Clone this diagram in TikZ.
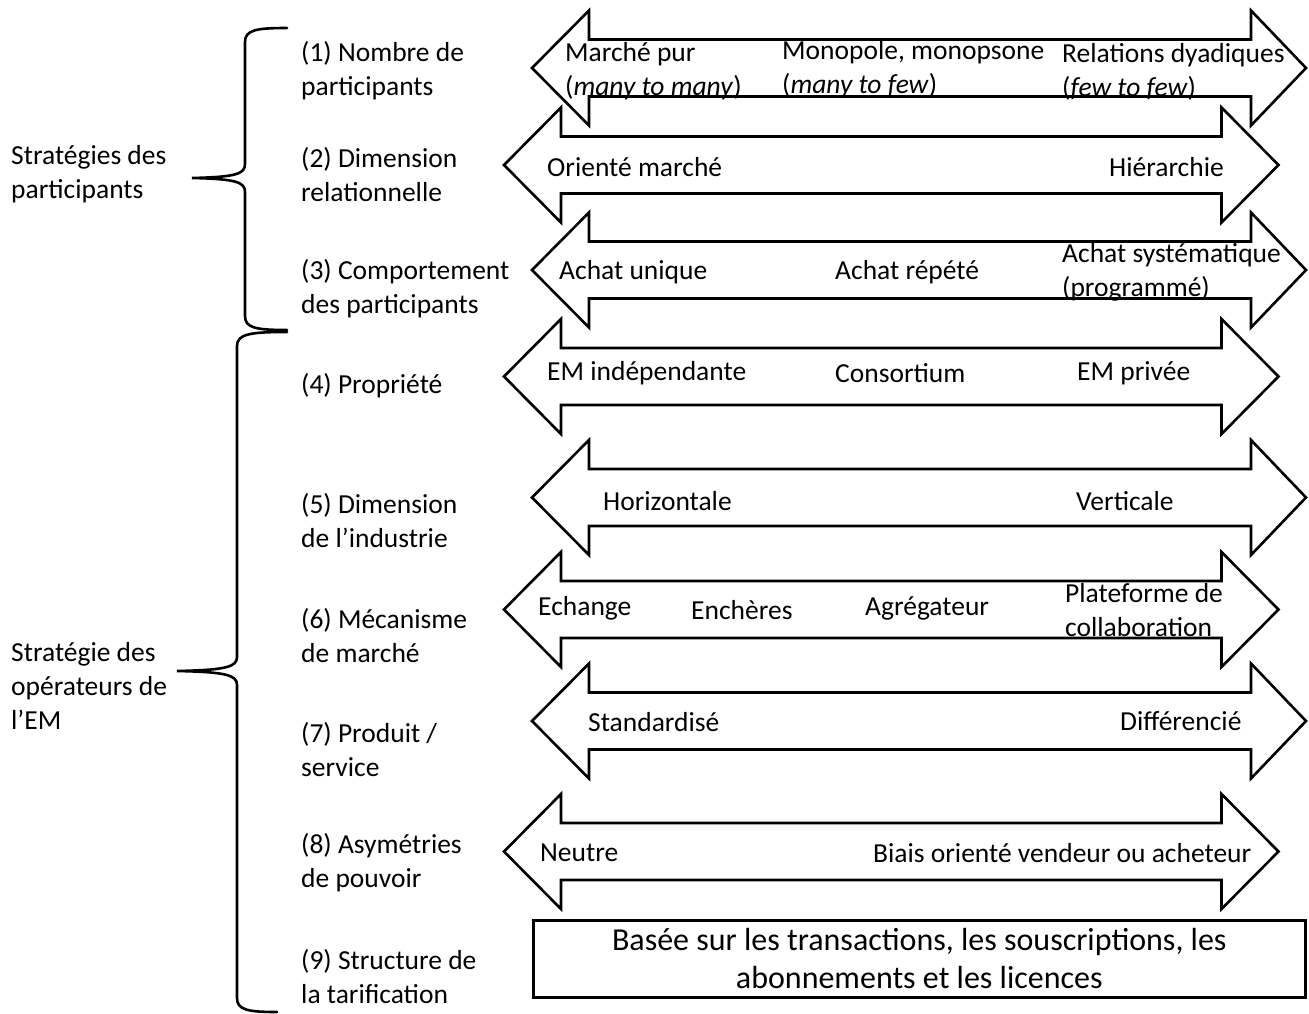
\documentclass[tikz,border=0pt]{standalone}
\usepackage{fontspec}
\setmainfont{Carlito}
\begin{document}
\begin{tikzpicture}[x=1pt,y=-1pt,
  arrowshape/.style={draw=black,line width=2.6pt,fill=white,line join=miter},
  bracestyle/.style={draw=black,line width=2.6pt,line cap=round},
  txt/.style={anchor=west,inner sep=0pt,align=left,font=\fontsize{27.5}{34}\selectfont},
  boxstyle/.style={draw=black,line width=2.6pt,fill=white}]
\useasboundingbox[fill=white] (0,0) rectangle (1309,1014);
\newcommand\dblarrow[5]{%
  \draw[arrowshape] (#2,#1) -- (#3,{#1-57.5}) -- (#3,{#1-28.5}) -- (#4,{#1-28.5}) -- (#4,{#1-57.5}) -- (#5,#1)
    -- (#4,{#1+57.5}) -- (#4,{#1+28.5}) -- (#3,{#1+28.5}) -- (#3,{#1+57.5}) -- cycle;}
% arrows
\dblarrow{68}{532}{589}{1251}{1306}
\dblarrow{165}{504}{561}{1221.5}{1278.5}
\dblarrow{270}{532}{589}{1251}{1306}
\dblarrow{376.5}{504}{561}{1221.5}{1278.5}
\dblarrow{497.5}{532}{589}{1251}{1306}
\dblarrow{609.5}{504}{561}{1221.5}{1278.5}
\dblarrow{721}{532}{589}{1251}{1306}
\dblarrow{851.5}{504}{561}{1221.5}{1278.5}
% box
\node[boxstyle,minimum width=772pt,minimum height=77pt,inner sep=0pt,anchor=north west,
  align=center,font=\fontsize{32}{38}\selectfont] (tarif) at (532,919)
  {Basée sur les transactions, les souscriptions, les\\abonnements et les licences};
% braces
\draw[bracestyle] (287,28) .. controls (256,28) and (245,30) .. (245,42) -- (245,164)
  .. controls (245,174) and (236,177) .. (192,178)
  .. controls (236,179) and (245,182) .. (245,192) -- (245,316)
  .. controls (245,328) and (256,330) .. (287,330);
\draw[bracestyle] (287,332) .. controls (250,332) and (237,334) .. (237,346) -- (237,657)
  .. controls (237,667) and (226,670) .. (177,671)
  .. controls (226,672) and (237,675) .. (237,685) -- (237,998)
  .. controls (237,1010) and (248,1012) .. (277,1012);
% group labels
\node[txt] (g1) at (11,174) {Stratégies des\\participants};
\node[txt] (g2) at (11,686) {Stratégie des\\opérateurs de\\l’EM};
% dimension labels
\node[txt] (d1) at (301,71) {(1) Nombre de\\participants};
\node[txt] (d2) at (301,175) {(2) Dimension\\relationnelle};
\node[txt] (d3) at (301,289) {(3) Comportement\\des participants};
\node[txt] (d4) at (301,386) {(4) Propriété};
\node[txt] (d5) at (301,521) {(5) Dimension\\de l’industrie};
\node[txt] (d6) at (301,636) {(6) Mécanisme\\de marché};
\node[txt] (d7) at (301,750) {(7) Produit /\\service};
\node[txt] (d8) at (301,863) {(8) Asymétries\\de pouvoir};
\node[txt] (d9) at (301,977) {(9) Structure de\\la tarification};
% row 1
\node[txt] (r1a) at (565,71) {Marché pur\\(\textit{many to many})};
\node[txt] (r1b) at (782,69) {Monopole, monopsone\\(\textit{many to few})};
\node[txt] (r1c) at (1062,72) {Relations dyadiques\\(\textit{few to few})};
% row 2
\node[txt] (r2a) at (547,167) {Orienté marché};
\node[txt] (r2b) at (1109,167) {Hiérarchie};
% row 3
\node[txt] (r3a) at (559,272) {Achat unique};
\node[txt] (r3b) at (835,272) {Achat répété};
\node[txt] (r3c) at (1062,272) {Achat systématique\\(programmé)};
% row 4
\node[txt] (r4a) at (547,373) {EM indépendante};
\node[txt] (r4b) at (835,373) {Consortium};
\node[txt] (r4c) at (1077,373) {EM privée};
% row 5
\node[txt] (r5a) at (603,501) {Horizontale};
\node[txt] (r5b) at (1076,501) {Verticale};
% row 6
\node[txt] (r6a) at (538,608) {Echange};
\node[txt] (r6b) at (691,610) {Enchères};
\node[txt] (r6c) at (865,608) {Agrégateur};
\node[txt] (r6d) at (1065,610) {Plateforme de\\collaboration};
% row 7
\node[txt] (r7a) at (588,722) {Standardisé};
\node[txt] (r7b) at (1120,721) {Différencié};
% row 8
\node[txt] (r8a) at (540,853) {Neutre};
\node[txt] (r8b) at (873,853) {Biais orienté vendeur ou acheteur};
\end{tikzpicture}
\end{document}
